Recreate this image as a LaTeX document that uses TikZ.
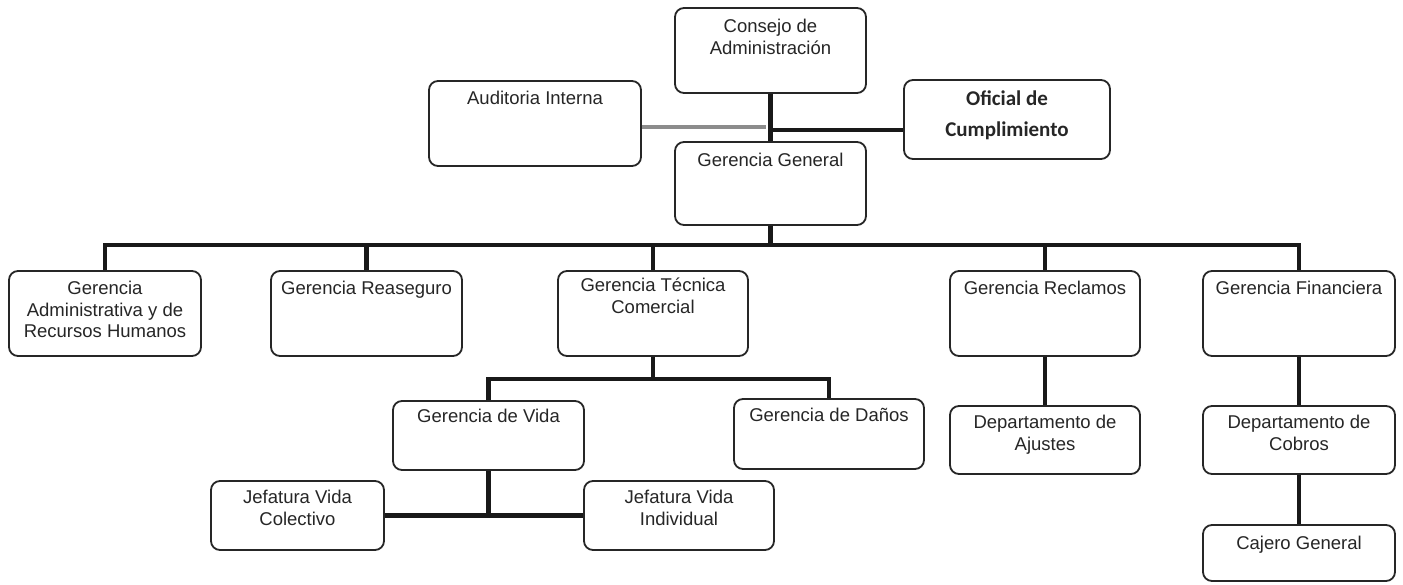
\documentclass[tikz,border=0pt]{standalone}
\usepackage{fontspec}
\setmainfont{Liberation Sans}
\newfontfamily\carlitofont{Carlito}
\begin{document}
\begin{tikzpicture}[x=1pt,y=-1pt,
  box/.style={draw=black!85, line width=1.8pt, rounded corners=9pt, fill=white, inner sep=0pt},
  txt/.style={anchor=north, inner sep=0pt, align=center, text=black!85, font=\fontsize{18.5}{21.5}\selectfont},
  conn/.style={line width=4.5pt, black!90},
  gline/.style={line width=4.5pt, black!45}]
\useasboundingbox (0,0) rectangle (1403,584);
\fill[white] (0,0) rectangle (1403,584);
% top level
\node[box, minimum width=191pt, minimum height=85pt] (cons) at (770.5,50.5) {};
\node[box, minimum width=212pt, minimum height=85pt] (aud) at (535,123.5) {};
\node[box, minimum width=206pt, minimum height=79pt] (ofi) at (1007,119.5) {};
\node[box, minimum width=191pt, minimum height=83pt] (gg) at (770.5,183.5) {};
% level 2
\node[box, minimum width=192pt, minimum height=85pt] (adm) at (105,313.5) {};
\node[box, minimum width=191pt, minimum height=85pt] (rea) at (366.5,313.5) {};
\node[box, minimum width=190pt, minimum height=85pt] (tec) at (653,313.5) {};
\node[box, minimum width=190pt, minimum height=85pt] (rec) at (1045,313.5) {};
\node[box, minimum width=192pt, minimum height=85pt] (fin) at (1299,313.5) {};
% level 3
\node[box, minimum width=191pt, minimum height=69pt] (vida) at (488.5,435.5) {};
\node[box, minimum width=190pt, minimum height=70pt] (danos) at (829,434) {};
\node[box, minimum width=190pt, minimum height=68pt] (ajus) at (1045,440) {};
\node[box, minimum width=192pt, minimum height=68pt] (cobr) at (1299,440) {};
% level 4
\node[box, minimum width=173pt, minimum height=69pt] (colec) at (297.5,515.5) {};
\node[box, minimum width=190pt, minimum height=69pt] (indiv) at (679,515.5) {};
\node[box, minimum width=192pt, minimum height=56pt] (caj) at (1299,553) {};
% connectors
\coordinate (jtop) at (770.5,130);
\coordinate (jaud) at (766,127);
\coordinate (bar) at (770.5,245);
\coordinate (sub) at (653,379);
\coordinate (jv) at (488.5,515.5);
\draw[conn] (cons.south) -- (gg.north);
\draw[gline] (aud.east |- jaud) -- (jaud);
\draw[conn] (jtop) -- (jtop -| ofi.west);
\draw[conn] (gg.south) -- (bar);
\draw[conn] (adm.north) -- (adm.north |- bar) -- (fin.north |- bar) -- (fin.north);
\draw[conn] (rea.north |- bar) -- (rea.north);
\draw[conn] (tec.north |- bar) -- (tec.north);
\draw[conn] (rec.north |- bar) -- (rec.north);
\draw[conn] (tec.south) -- (sub);
\draw[conn] (vida.north) -- (vida.north |- sub) -- (danos.north |- sub) -- (danos.north);
\draw[conn] (vida.south) -- (jv);
\draw[conn] (colec.east) -- (indiv.west);
\draw[conn] (rec.south) -- (ajus.north);
\draw[conn] (fin.south) -- (cobr.north);
\draw[conn] (cobr.south) -- (caj.north);
% texts
\node[txt] (tcons) at ([yshift=-12pt]cons.north) {Consejo de\\Administración};
\node[txt] (taud) at ([yshift=-11pt]aud.north) {Auditoria Interna};
\node[anchor=center, inner sep=0pt, align=center, text=black!85, font=\carlitofont\bfseries\fontsize{21}{31}\selectfont] (tofi) at ([yshift=4pt]ofi.center) {Oficial de\\Cumplimiento};
\node[txt] (tgg) at ([yshift=-12pt]gg.north) {Gerencia General};
\node[txt] (tadm) at ([yshift=-11pt]adm.north) {Gerencia\\Administrativa y de\\Recursos Humanos};
\node[txt] (trea) at ([yshift=-11pt]rea.north) {Gerencia Reaseguro};
\node[txt] (ttec) at ([yshift=-8pt]tec.north) {Gerencia Técnica\\Comercial};
\node[txt] (trec) at ([yshift=-11pt]rec.north) {Gerencia Reclamos};
\node[txt] (tfin) at ([yshift=-11pt]fin.north) {Gerencia Financiera};
\node[txt] (tvida) at ([yshift=-9pt]vida.north) {Gerencia de Vida};
\node[txt] (tdanos) at ([yshift=-10pt]danos.north) {Gerencia de Daños};
\node[txt] (tajus) at ([yshift=-10pt]ajus.north) {Departamento de\\Ajustes};
\node[txt] (tcobr) at ([yshift=-10pt]cobr.north) {Departamento de\\Cobros};
\node[txt] (tcolec) at ([yshift=-10pt]colec.north) {Jefatura Vida\\Colectivo};
\node[txt] (tindiv) at ([yshift=-10pt]indiv.north) {Jefatura Vida\\Individual};
\node[txt] (tcaj) at ([yshift=-12pt]caj.north) {Cajero General};
\end{tikzpicture}
\end{document}
